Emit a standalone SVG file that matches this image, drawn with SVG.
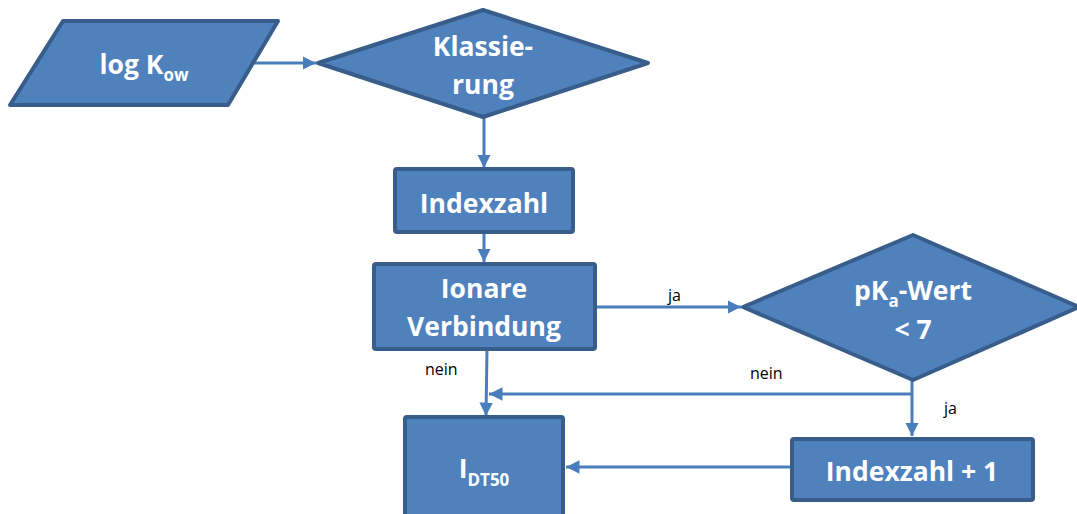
<svg xmlns="http://www.w3.org/2000/svg" width="1077" height="514" viewBox="0 0 1077 514">
  <style>
    .shape { fill: #4F81BD; stroke: #385D8A; stroke-width: 4; stroke-linejoin: round; }
    .title { font-family: "Open Sans", "Liberation Sans", sans-serif; font-weight: bold; font-size: 26.5px; fill: #FFFFFF; text-anchor: middle; }
    .sub { font-size: 17px; }
    .label { font-family: "Open Sans", "Liberation Sans", sans-serif; font-size: 16px; fill: #000000; }
    .conn { fill: none; stroke: #4A7EBB; stroke-width: 3; }
  </style>
  <defs>
    <marker id="arrow" viewBox="0 0 10 10" refX="10" refY="5" markerWidth="4.5" markerHeight="4.5" markerUnits="strokeWidth" orient="auto">
      <path d="M0,0 L10,5 L0,10 z" fill="#4A7EBB"/>
    </marker>
  </defs>

  <rect width="1077" height="514" fill="#FFFFFF"/>

  <g id="connectors">
    <path class="conn" d="M253,63 L316,63" marker-end="url(#arrow)"/>
    <path class="conn" d="M484,118 L484,168" marker-end="url(#arrow)"/>
    <path class="conn" d="M484,233 L484,262" marker-end="url(#arrow)"/>
    <path class="conn" d="M596,307 L741,307" marker-end="url(#arrow)"/>
    <path class="conn" d="M487,349 L486,416" marker-end="url(#arrow)"/>
    <path class="conn" d="M912,381 L912,436" marker-end="url(#arrow)"/>
    <path class="conn" d="M912,394 L489,394" marker-end="url(#arrow)"/>
    <path class="conn" d="M792,467 L566,467" marker-end="url(#arrow)"/>
    <text class="label" x="668" y="301">ja</text>
    <text class="label" x="425" y="375">nein</text>
    <text class="label" x="750" y="379">nein</text>
    <text class="label" x="944" y="414">ja</text>
  </g>

  <g id="logkow">
    <polygon class="shape" points="63,21 278,21 228,105 10,105"/>
    <text class="title" x="144" y="74">log K<tspan class="sub" dy="7">ow</tspan></text>
  </g>

  <g id="klassierung">
    <polygon class="shape" points="318,63 483,10 648,63 483,117"/>
    <text class="title" x="483" y="56">Klassie-</text>
    <text class="title" x="483" y="94">rung</text>
  </g>

  <g id="indexzahl">
    <rect class="shape" x="395" y="169" width="178" height="63" rx="2"/>
    <text class="title" x="484" y="213">Indexzahl</text>
  </g>

  <g id="ionare">
    <rect class="shape" x="374" y="264" width="221" height="85" rx="2"/>
    <text class="title" x="484" y="298">Ionare</text>
    <text class="title" x="484" y="336">Verbindung</text>
  </g>

  <g id="pka">
    <polygon class="shape" points="743,307 913,235 1079,307 913,380"/>
    <text class="title" x="913" y="300">pK<tspan class="sub" dy="7">a</tspan><tspan dy="-7">-Wert</tspan></text>
    <text class="title" x="913" y="339">&lt; 7</text>
  </g>

  <g id="indexzahl-plus">
    <rect class="shape" x="792" y="439" width="241" height="61" rx="2"/>
    <text class="title" x="912" y="481">Indexzahl + 1</text>
  </g>

  <g id="idt50">
    <rect class="shape" x="405" y="417" width="158" height="105" rx="2"/>
    <text class="title" x="484" y="478">I<tspan class="sub" dy="8">DT50</tspan></text>
  </g>
</svg>
